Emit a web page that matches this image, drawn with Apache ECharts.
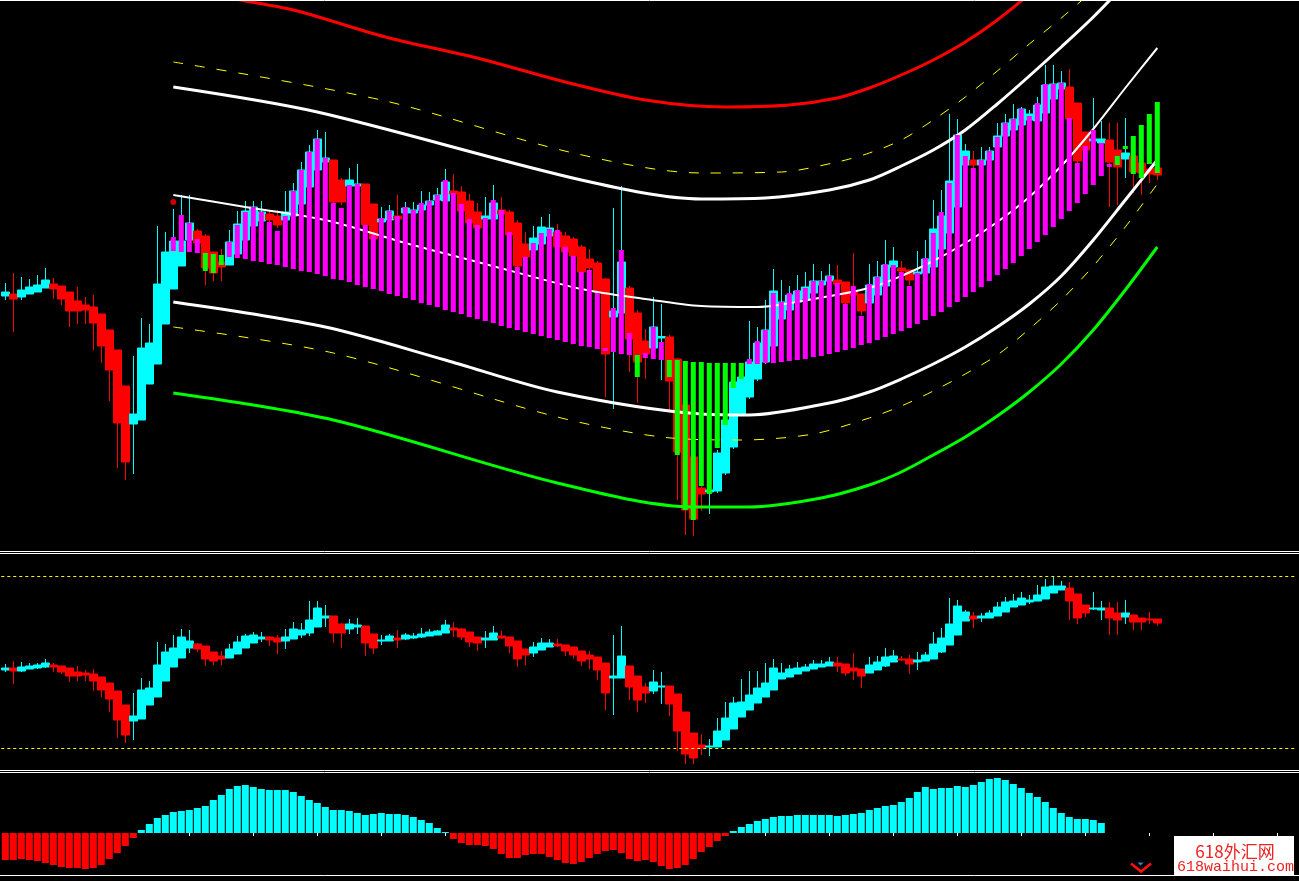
<!DOCTYPE html>
<html><head><meta charset="utf-8">
<script src="https://cdn.jsdelivr.net/npm/echarts@6/dist/echarts.min.js"></script>
<style>html,body{margin:0;padding:0;background:#000;}#c{width:1299px;height:881px;}</style>
</head><body><div id="c"></div>
<script>
// ---- slots (bars + right shift space) ----
const N_SLOTS = 162;
const categories = Array.from({length: N_SLOTS}, (_, i) => 'B' + (i + 1));

// ---- main panel Heiken-Ashi candles: [open, close, low, high] ----
const mainCandles = [
[254,258,250,267],[256,251,218,277],[253,260,250,273],[256,263,256,271],[258,265,258,275],
[262,270,262,282],[266,261,251,272],[264,251,245,264],[258,239,223,258],[249,239,226,263],
[245,240,226,253],[243,227,200,255],[236,204,187,236],[220,180,149,220],[200,127,82,200],
[164,88,70,164],[126,136,76,194],[130,202,130,232],[166,207,166,226],[186,266,186,324],
[226,298,226,318],[261,309,261,341],[284,309,284,355],[310,327,305,355],[319,307,300,321],
[314,282,265,316],[298,277,269,298],[288,283,269,301],[285,308,285,320],[296,326,296,339],
[310,339,310,349],[324,343,324,349],[329,338,329,349],[336,330,328,339],[334,325,322,340],
[330,338,330,359],[334,359,332,367],[346,380,346,388],[363,398,363,405],[380,411,378,420],
[388,392,380,418],[390,348,345,390],[370,348,345,372],[364,370,362,382],[364,366,362,386],
[366,325,322,366],[346,311,308,346],[328,331,326,343],[330,339,328,345],[334,331,329,355],
[337,342,335,348],[337,340,335,348],[340,345,338,359],[345,349,343,358],[350,355,348,362],
[349,368,347,381],[359,356,354,376],[358,339,336,364],[349,327,324,356],[338,322,318,347],
[331,334,329,353],[331,347,329,365],[340,336,334,353],[338,315,312,340],[327,284,280,330],
[306,293,290,318],[300,312,298,324],[306,323,304,333],[314,322,312,336],[318,303,300,326],
[314,298,296,318],[311,294,290,313],[303,278,275,305],[291,282,279,301],[287,258,250,289],
[271,196,153,272],[233,239,141,342],[237,288,235,364],[262,211,178,264],[237,188,147,240],
[209,196,171,221],[202,223,200,253],[212,213.5,170,246],[213,169,140,215],[191,98,50,192],
[145,40,15,147],[93,31,14,95],[62,56,39,66],[58,60,36,64],[59,97,57,100],
[77,130,75,132],[103,168,101,170],[136,173,134,175],[153,188,151,229],[171,207,169,223],
[188,220,186,250],[204,259,202,281],[231,248,229,270],[240,255,238,264],[248,259,246,275],
[251,263,249,278],[257,269,255,286],[265,269,263,279],[269,274,267,286],[270,266,262,285],
[268,247,240,268],[258,255,250,297],[256,239,235,256],[247,265,245,286],[255,273,253,289],
[264,285,262,310],[283,289,281,303],[282,279,276,289],[280,270,265,280],[276,278,272,299],
[277,291,275,310],[283,321,281,350],[301,334,299,360],[317,369,315,436],[343,415,341,431],
[385,399,383,406],[390,385,382,399],[385,390,383,403],[390,399,388,403],[403,414,401,427],
[414,427,412,436],[420,431,418,446],[425,441,423,443],[430,436,428,440],[429,445,427,453],
[437,465,435,485],[451,466,449,485],[461,467,459,479],[463,431,429,481],[447,389,387,447],
[418,400,395,418],[409,411,405,452],[407,411,400,429],[410,388,343,427],[400,383,345,427],
[391,397,372,432],[394,378,357,394],[387,377,355,387],[381,376,367,383],[382,375,370,383]
];

// ---- main panel histogram (magenta / green) from bar 21 ----
const histStart = 21;
const histLo = [299,298,298,297,279,277,285,293,292,291,
289,288,286,285,283,281,279,278,276,274,
271,270,268,265,263,261,259,256,254,252,
250,247,245,243,240,238,236,233,231,229,
227,224,222,220,218,216,214,212,210,208,
206,204,203,201,199,198,196,195,173,192,
191,190,173,95,40,30,64,56,102,125,
162,171,186,186,187,187,188,189,190,191,
193,194,196,198,200,202,205,207,210,213,
216,219,222,226,230,234,238,243,248,253,
258,263,269,275,281,287,294,301,308,315,
323,331,339,347,356,365,374,383,385,401,
376,372,386,377];
const histHi = [313,335,327,311,297,296,295,308,325,338,
343,338,328,319,334,359,380,398,411,392,
347,342,365,366,325,315,332,339,334,343,
340,347,349,355,370,357,346,331,325,332,
350,340,318,283,293,307,317,321,320,303,
294,278,280,257,202,242,300,217,195,197,
223,208,190,190,189,188,188,187,187,187,
187,187,191,209,220,257,248,257,260,262,
269,269,274,267,246,264,234,266,273,286,
285,278,264,277,292,317,338,367,415,394,
382,390,399,413,427,431,441,434,447,466,
466,467,432,387,404,420,407,386,394,404,
414,425,436,448];
const histKind = ('mmmmgggmmm' + 'mmmmmmmmmm' + 'mmmmmmmmmm' + 'mmmmmmmmmm' + 'mmmmmmmmmm' +
  'mmmmmmmmgm' + 'mmgggggggg' + 'ggmmmmmmmm' + 'mmmmmmmmmm' + 'mmmmmmmmmm' +
  'mmmmmmmmmm' + 'mmmmmmmmgg' + 'gggg').split('');

// ---- main panel band lines: [bar, value] ----
const redBand = [[21,565],[28,552],[36,540],[48,512],[59,492],[70,468],[80,450],[90,443],[98,445],[104,452],[108,462],[112,475],[116,490],[120,508],[124,530],[128,556],[132,585]];
const upperYellow = [[21,488],[47,450],[71,397],[87,377],[97,378],[104,388],[108,397],[112,410],[116,430],[120,453],[124,479],[128,506],[132,532],[136,560],[140,592]];
const upperWhite = [[21,463],[39,438],[72,370],[87,351],[95,352],[103,360],[108,370],[112,384],[116,400],[120,420],[124,446],[128,474],[132,503],[136,533],[140,566],[144,600]];
const midLine = [[21,355],[30,343],[40,330],[50,307],[60,286],[72,261],[80,251],[87,244],[94,243],[101,251],[108,262],[112,274],[116,289],[120,307],[124,328],[128,353],[132,384],[136,421],[140,462],[144,502]];
const lowerWhite = [[21,248],[40,223],[55,190],[69,158],[87,136],[93,135],[103,147],[108,158],[112,171],[116,186],[120,203],[124,223],[128,246],[132,274],[136,310],[140,350],[144,390]];
const lowerYellow = [[21,223],[41,197],[69,133],[82,113],[92,110],[101,116],[108,132],[112,144],[116,159],[120,176],[124,195],[128,221],[132,250],[136,284],[140,323],[144,366]];
const greenBand = [[21,157],[41,130],[69,67],[86,43],[93,43],[102,52],[108,65],[112,78],[116,95],[120,113],[124,134],[128,158],[132,186],[136,220],[140,260],[144,303]];
const signalDots = [[21,348]];

// ---- panel 2 candles: [open, close, low, high] ----
const oscCandles = [
[99,101,97,105],[101,98,85,108],[98,102,97,107],[100,103,100,106],[101,104,100,106],
[102,106,101,110],[104,102,97,106],[103,97,95,103],[101,93,87,101],[97,93,88,103],
[96,94,88,99],[95,88,78,100],[92,79,72,92],[86,70,57,86],[78,49,31,78],
[64,34,26,64],[48,53,29,76],[50,79,50,91],[64,81,64,88],[72,104,72,127],
[88,117,88,125],[102,121,102,134],[111,132,111,140],[121,128,116,139],[125,120,117,126],
[123,110,103,123],[117,108,104,117],[113,110,104,118],[111,120,111,125],[115,127,115,133],
[121,133,121,135],[126,134,126,137],[130,132,127,137],[132,129,123,133],[131,127,115,134],
[128,132,120,140],[130,140,130,147],[134,139,131,146],[136,149,133,168],[142,161,142,168],
[151,153,142,164],[153,136,126,153],[145,136,121,146],[140,145,135,150],[142,144,135,151],
[143,126,113,143],[135,121,115,135],[128,129,124,134],[128,133,128,135],[131,129,121,139],
[130,134,129,136],[131,133,130,136],[132,135,131,141],[133,137,133,140],[134,138,134,139],
[136,144,136,149],[141,139,132,147],[140,132,129,141],[137,127,122,137],[132,126,118,132],
[129,131,121,138],[129,136,129,143],[133,131,130,138],[132,123,116,132],[128,110,102,128],
[120,114,104,120],[116,122,112,127],[119,126,119,131],[122,126,122,130],[125,123,122,130],
[124,118,113,124],[122,114,110,122],[118,108,103,118],[114,110,100,118],[112,99,89,112],
[106,76,59,106],[91,93,54,134],[91,113,91,143],[103,82,69,103],[93,69,57,93],
[82,76,66,86],[78,87,75,99],[82,83,65,97],[83,65,53,83],[75,38,18,75],
[57,15,5,57],[36,11,5,36],[24,21,14,35],[22,23,13,30],[22,38,22,51],
[29,51,29,67],[40,66,40,72],[52,67,52,90],[59,74,59,98],[66,81,66,98],
[72,86,72,106],[79,101,79,110],[90,96,90,106],[92,100,92,104],[95,101,95,107],
[98,102,98,105],[100,105,100,109],[102,105,102,109],[103,107,103,112],[106,103,97,112],
[105,96,93,105],[101,98,89,116],[100,93,81,100],[96,104,96,112],[99,107,99,113],
[103,112,102,121],[107,113,107,119],[110,109,108,113],[110,105,95,114],[107,109,99,117],
[108,114,108,117],[110,125,110,137],[117,131,116,141],[124,145,124,171],[134,163,134,169],
[148,157,148,159],[153,150,141,157],[151,153,147,156],[151,156,151,159],[153,162,153,167],
[157,167,157,172],[162,168,162,175],[164,171,164,177],[167,169,165,174],[168,174,168,184],
[170,182,170,190],[176,183,176,192],[179,183,179,188],[181,168,149,187],[175,151,145,175],
[164,156,152,164],[160,161,159,177],[159,161,149,168],[161,151,134,167],[156,149,134,167],
[152,156,145,169],[154,147,139,154],[151,147,139,151],[150,149,145,157],[150,146,143,150]
];
const oscLevels = [193, 21];

// ---- panel 3 histogram ----
const momentum = [-27,-27,-26,-27,-28,-30,-32,-34,-35,-35,-36,-35,-32,-26,-20,-13,-5,
3,9,15,18,21,22,23,25,27,33,38,44,47,48,46,44,43,43,43,41,37,33,30,26,23,23,22,20,18,19,20,19,19,18,16,13,10,5,1,
-6,-10,-12,-12,-13,-16,-21,-25,-25,-22,-21,-21,-24,-27,-30,-31,-29,-25,-21,-18,-17,-20,-26,-28,-27,-29,-33,-36,-35,-32,-26,-19,-14,-8,-3,
2,6,9,12,14,16,17,17,18,18,18,18,18,17,18,19,20,23,25,27,28,31,35,41,46,44,45,45,47,46,48,51,54,55,53,49,45,40,36,31,25,20,16,14,14,13,10];

// ---- colours ----
const CYAN = '#00ffff', RED = '#ff0000', MAG = '#ff00ff', LIME = '#00ff00', YEL = '#ffff00', WHITE = '#ffffff';

const chart = echarts.init(document.getElementById('c'), null, {renderer: 'canvas', width: 1299, height: 881});
const GL = 1.3, GW = 1296;
const hiddenX = (g) => ({type: 'category', gridIndex: g, data: categories, boundaryGap: true,
  axisLine: {show: false}, axisTick: {show: false}, axisLabel: {show: false}, splitLine: {show: false}});
const candleStyle = {color: CYAN, color0: RED, borderColor: CYAN, borderColor0: RED, borderWidth: 1};
const bandLine = (data, color, width, type, z) => ({
  type: 'line', xAxisIndex: 0, yAxisIndex: 0, data: data, smooth: 0.3, symbol: 'none', z: z || 3,
  lineStyle: {color: color, width: width, type: type || 'solid'}, clip: true, silent: true
});
const hline = (y, x1, x2) => ({type: 'line', shape: {x1: x1 || 0, y1: y, x2: x2 || 1299, y2: y}, style: {stroke: WHITE, lineWidth: 1}, z: 50});

const option = {
  backgroundColor: '#000000',
  animation: false,
  grid: [
    {left: GL, top: 0, width: GW, height: 550},
    {left: GL, top: 554, width: GW, height: 215},
    {left: GL, top: 773, width: GW, height: 103}
  ],
  xAxis: [hiddenX(0), hiddenX(1), Object.assign(hiddenX(2), {
    axisTick: {show: true, alignWithLabel: true, interval: (i) => i % 8 === 7, length: 3, lineStyle: {color: WHITE, width: 1}}
  })],
  yAxis: [
    {type: 'value', gridIndex: 0, min: 0, max: 550, show: false},
    {type: 'value', gridIndex: 1, min: 0, max: 215, show: false},
    {type: 'value', gridIndex: 2, min: -43, max: 60, show: false}
  ],
  series: [
    {type: 'candlestick', xAxisIndex: 0, yAxisIndex: 0, data: mainCandles, barWidth: 8, itemStyle: candleStyle, z: 2, silent: true},
    bandLine(redBand, RED, 3),
    bandLine(upperYellow, YEL, 1, [10, 12]),
    bandLine(upperWhite, WHITE, 3),
    bandLine(midLine, WHITE, 2),
    bandLine(lowerWhite, WHITE, 3),
    bandLine(lowerYellow, YEL, 1, [10, 12]),
    bandLine(greenBand, LIME, 3),
    {
      type: 'custom', xAxisIndex: 0, yAxisIndex: 0, z: 4, clip: true, silent: true,
      data: histLo.map((lo, k) => [histStart + k, lo, histHi[k]]),
      renderItem: function (params, api) {
        const i = api.value(0);
        const top = api.coord([i, api.value(2)]);
        const bot = api.coord([i, api.value(1)]);
        return {type: 'rect', shape: {x: top[0] - 2.5, y: top[1], width: 5, height: Math.max(1, bot[1] - top[1])},
          style: {fill: histKind[params.dataIndex] === 'g' ? LIME : MAG}};
      }
    },
    {type: 'scatter', xAxisIndex: 0, yAxisIndex: 0, data: signalDots, symbol: 'circle', symbolSize: 6, itemStyle: {color: RED}, z: 6, silent: true},
    {type: 'candlestick', xAxisIndex: 1, yAxisIndex: 1, data: oscCandles, barWidth: 8, itemStyle: candleStyle, z: 2, silent: true,
      markLine: {silent: true, symbol: 'none', label: {show: false},
        lineStyle: {color: YEL, width: 1, type: [3, 3]},
        data: oscLevels.map(v => ({yAxis: v}))}},
    {type: 'bar', xAxisIndex: 2, yAxisIndex: 2, barWidth: 7, silent: true,
      data: momentum.map(v => ({value: v, itemStyle: {color: v >= 0 ? CYAN : RED}}))}
  ],
  graphic: [
    hline(0.5), hline(551.5), hline(553.5), hline(770.5), hline(772.5), hline(875.5),
    {type: 'polyline', shape: {points: [[1131, 863.5], [1141, 871.5], [1151, 863.5]]}, style: {stroke: '#ff1010', lineWidth: 2.6, fill: null}, z: 60},
    {type: 'polygon', shape: {points: [[1137.5, 862.5], [1143.5, 862.5], [1140.5, 865.5]]}, style: {fill: '#2f86d0'}, z: 61},
    {type: 'rect', shape: {x: 1174, y: 836, width: 120, height: 40}, style: {fill: '#ffffff'}, z: 70},
    {type: 'text', x: 1235, y: 852, z: 71, style: {text: '618外汇网', fill: '#ee2222', font: '17px "Noto Sans CJK SC"', align: 'center', verticalAlign: 'middle'}},
    {type: 'text', x: 1235.5, y: 867.5, z: 71, style: {text: '618waihui.com', fill: '#ee2222', font: '15px "Liberation Mono"', align: 'center', verticalAlign: 'middle'}}
  ]
};
chart.setOption(option);
</script>
</body></html>
